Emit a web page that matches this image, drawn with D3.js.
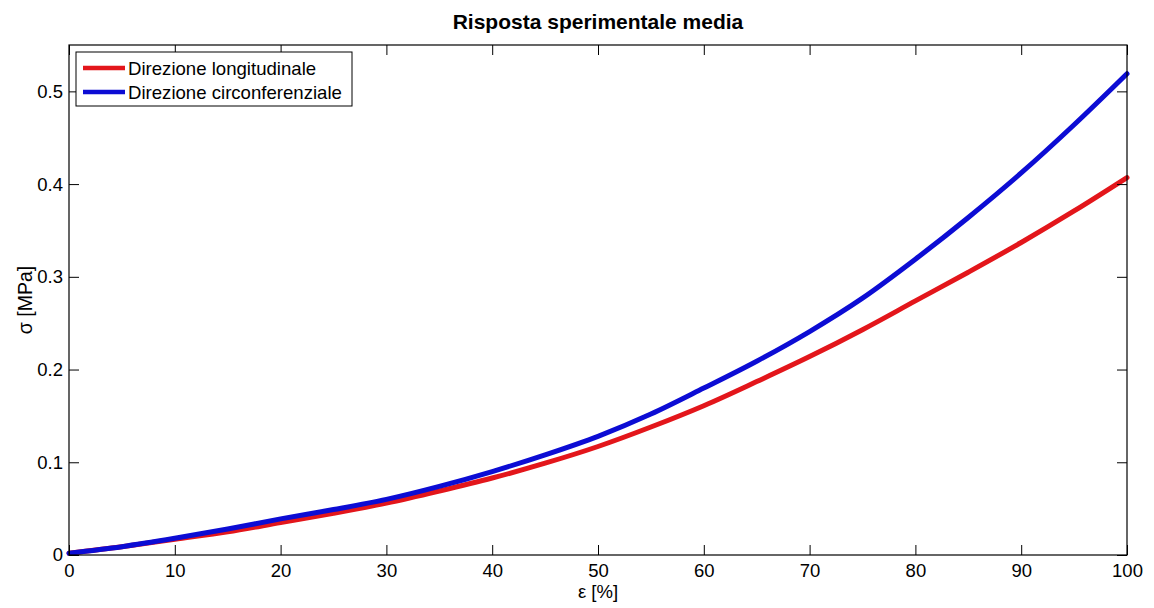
<!DOCTYPE html>
<html>
<head>
<meta charset="utf-8">
<script src="https://cdn.jsdelivr.net/npm/d3@7"></script>
<style>
  html, body { margin: 0; padding: 0; background: #fff; }
  svg { display: block; font-family: "Liberation Sans", Arial, sans-serif; }
</style>
</head>
<body>
<svg id="chart" width="1154" height="608"></svg>
<script>
// Strain (%) sample points
const strain = [0, 5, 10, 15, 20, 25, 30, 35, 40, 45, 50, 55, 60, 65, 70, 75, 80, 85, 90, 95, 100];
// Mean stress (MPa), longitudinal direction
const stressLongitudinal = [0.002, 0.009, 0.017, 0.025, 0.035, 0.045, 0.056, 0.069, 0.083, 0.099, 0.117, 0.138, 0.161, 0.187, 0.214, 0.243, 0.274, 0.305, 0.337, 0.371, 0.407];
// Mean stress (MPa), circumferential direction
const stressCircumferential = [0.002, 0.009, 0.018, 0.028, 0.039, 0.049, 0.060, 0.074, 0.090, 0.108, 0.128, 0.152, 0.180, 0.209, 0.241, 0.277, 0.319, 0.364, 0.412, 0.464, 0.519];
const xTicks = [0, 10, 20, 30, 40, 50, 60, 70, 80, 90, 100];
const yTicks = [0, 0.1, 0.2, 0.3, 0.4, 0.5];
const seriesNames = ["Direzione longitudinale", "Direzione circonferenziale"];
const seriesColors = ["#e3161b", "#0c0cd4"];

const svg = d3.select("#chart");
const m = { left: 69, right: 1127, top: 45, bottom: 555 };
const x = d3.scaleLinear().domain([0, 100]).range([m.left, m.right]);
const y = d3.scaleLinear().domain([0, 0.55]).range([m.bottom, m.top]);
const tickLen = 10;

// Title
svg.append("text")
  .attr("x", (m.left + m.right) / 2).attr("y", 29)
  .attr("text-anchor", "middle")
  .attr("font-size", 21).attr("font-weight", "bold")
  .text("Risposta sperimentale media");

// Curves
const line = d3.line().x((d, i) => x(strain[i])).y(d => y(d)).curve(d3.curveMonotoneX);
const plot = svg.append("g");
[stressLongitudinal, stressCircumferential].forEach((s, k) => {
  plot.append("path")
    .attr("d", line(s))
    .attr("fill", "none")
    .attr("stroke", seriesColors[k])
    .attr("stroke-width", 5)
    .attr("stroke-linejoin", "round")
    .attr("stroke-linecap", "round");
});

// Axes box with inward ticks on all four sides
const axisStyle = g => {
  g.select(".domain").remove();
  g.selectAll(".tick line").attr("stroke", "#000").attr("stroke-width", 1);
  g.selectAll("text").attr("font-size", 18.5).attr("fill", "#000").attr("font-family", "Liberation Sans, Arial, sans-serif");
};
svg.append("g").attr("transform", `translate(0,${m.bottom})`)
  .call(d3.axisBottom(x).tickValues(xTicks).tickFormat(d3.format("d")).tickSizeInner(-tickLen).tickSizeOuter(0).tickPadding(9))
  .call(axisStyle);
svg.append("g").attr("transform", `translate(0,${m.top})`)
  .call(d3.axisTop(x).tickValues(xTicks).tickFormat("").tickSizeInner(-tickLen).tickSizeOuter(0))
  .call(axisStyle);
svg.append("g").attr("transform", `translate(${m.left},0)`)
  .call(d3.axisLeft(y).tickValues(yTicks).tickFormat(d => d === 0 ? "0" : d3.format(".1f")(d)).tickSizeInner(-tickLen).tickSizeOuter(0).tickPadding(6))
  .call(axisStyle);
svg.append("g").attr("transform", `translate(${m.right},0)`)
  .call(d3.axisRight(y).tickValues(yTicks).tickFormat("").tickSizeInner(-tickLen).tickSizeOuter(0))
  .call(axisStyle);

svg.append("rect")
  .attr("x", m.left).attr("y", m.top)
  .attr("width", m.right - m.left).attr("height", m.bottom - m.top)
  .attr("fill", "none").attr("stroke", "#000").attr("stroke-width", 1.2);

// Axis labels
svg.append("text")
  .attr("x", (m.left + m.right) / 2).attr("y", 598)
  .attr("text-anchor", "middle").attr("font-size", 18.5)
  .text("ε [%]");
svg.append("text")
  .attr("transform", `translate(32,${(m.top + m.bottom) / 2}) rotate(-90)`)
  .attr("text-anchor", "middle").attr("font-size", 19.5)
  .text("σ [MPa]");

// Legend
const lg = svg.append("g").attr("transform", "translate(76,52)");
lg.append("rect").attr("width", 276).attr("height", 54)
  .attr("fill", "#fff").attr("stroke", "#000").attr("stroke-width", 1);
seriesNames.forEach((name, i) => {
  const cy = 16 + i * 24;
  lg.append("line").attr("x1", 7).attr("x2", 49).attr("y1", cy).attr("y2", cy)
    .attr("stroke", seriesColors[i]).attr("stroke-width", 4.5);
  lg.append("text").attr("x", 52).attr("y", cy + 6.5).attr("font-size", 18.6).text(name);
});
</script>
</body>
</html>
